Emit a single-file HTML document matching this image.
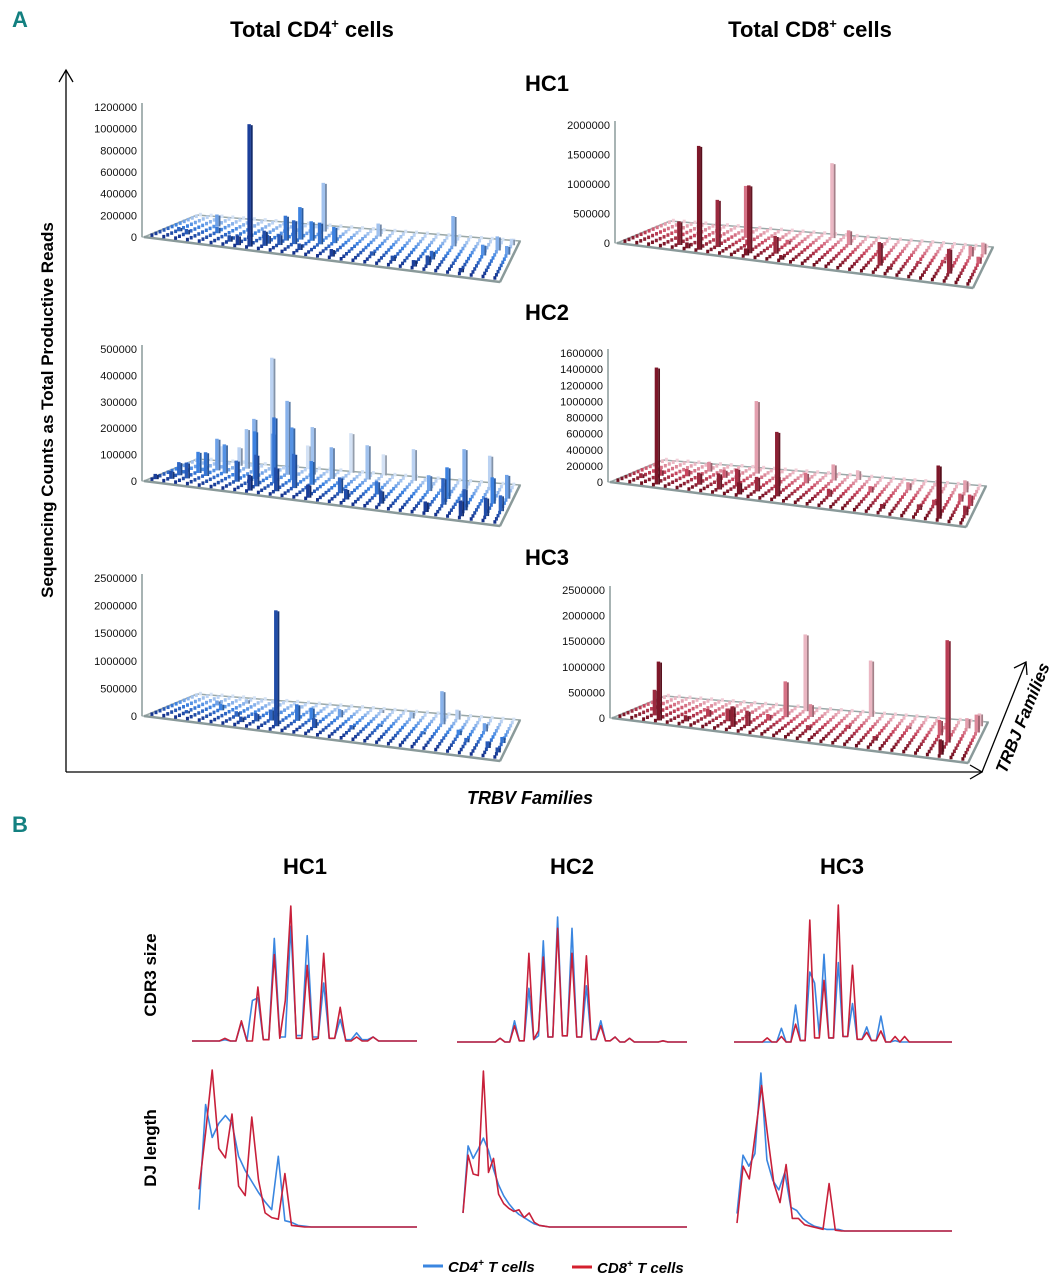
<!DOCTYPE html>
<html><head><meta charset="utf-8">
<style>
body{margin:0;background:#fff;}
svg{display:block;font-family:"Liberation Sans",sans-serif;}
</style></head>
<body>
<svg id="fig" width="1054" height="1280" viewBox="0 0 1054 1280">
<g id="static">
<text x="12" y="27" font-size="22" font-weight="bold" fill="#138080">A</text>
<text x="12" y="832" font-size="22" font-weight="bold" fill="#138080">B</text>
<text x="312" y="37" font-size="22" font-weight="bold" text-anchor="middle">Total CD4<tspan font-size="13" dy="-9">+</tspan><tspan dy="9"> cells</tspan></text>
<text x="810" y="37" font-size="22" font-weight="bold" text-anchor="middle">Total CD8<tspan font-size="13" dy="-9">+</tspan><tspan dy="9"> cells</tspan></text>
<text x="547" y="91" font-size="22" font-weight="bold" text-anchor="middle">HC1</text>
<text x="547" y="320" font-size="22" font-weight="bold" text-anchor="middle">HC2</text>
<text x="547" y="565" font-size="22" font-weight="bold" text-anchor="middle">HC3</text>
<g stroke="#000" stroke-width="1.3" fill="none">
<line x1="66" y1="772" x2="66" y2="70"/><polyline points="59,82 66,70 73,82"/>
<line x1="66" y1="772" x2="982" y2="772"/><polyline points="970,765 982,772 970,779"/>
<line x1="982" y1="772" x2="1026" y2="662"/><polyline points="1014,668 1026,662 1027,675"/>
</g>
<text transform="translate(53,410) rotate(-90)" font-size="17" font-weight="bold" text-anchor="middle">Sequencing Counts as Total Productive Reads</text>
<text x="530" y="804" font-size="18" font-weight="bold" font-style="italic" text-anchor="middle">TRBV Families</text>
<text transform="translate(1028,720) rotate(-68)" font-size="17" font-weight="bold" font-style="italic" text-anchor="middle">TRBJ Families</text>
<text x="305" y="874" font-size="22" font-weight="bold" text-anchor="middle">HC1</text>
<text x="572" y="874" font-size="22" font-weight="bold" text-anchor="middle">HC2</text>
<text x="842" y="874" font-size="22" font-weight="bold" text-anchor="middle">HC3</text>
<text transform="translate(156,975) rotate(-90)" font-size="17" font-weight="bold" text-anchor="middle">CDR3 size</text>
<text transform="translate(156,1148) rotate(-90)" font-size="17" font-weight="bold" text-anchor="middle">DJ length</text>
<g>
<line x1="423" y1="1266" x2="443" y2="1266" stroke="#3a86e0" stroke-width="3"/>
<text x="448" y="1272" font-size="15" font-weight="bold" font-style="italic">CD4<tspan font-size="10" dy="-6">+</tspan><tspan dy="6"> T cells</tspan></text>
<line x1="572" y1="1267" x2="592" y2="1267" stroke="#d4202e" stroke-width="3"/>
<text x="597" y="1273" font-size="15" font-weight="bold" font-style="italic">CD8<tspan font-size="10" dy="-6">+</tspan><tspan dy="6"> T cells</tspan></text>
</g>
</g>
<g id="plots"></g>
</svg>
<script>
// ---- 3D bar data: [V family, J family, reads] ----
const cd4hc1Bars=[[8,1,1130000],[12,10,450000],[11,6,300000],[10,5,230000],[11,4,220000],[12,6,180000],[13,5,200000],[14,6,150000],[10,3,100000],[9,3,80000],[7,1,90000],[6,2,60000],[3,8,110000],[24,9,280000],[27,7,100000],[28,9,130000],[29,8,80000],[29,11,60000],[23,4,80000],[23,2,90000],[22,1,60000],[26,1,40000],[15,1,70000],[12,2,60000],[18,3,40000],[20,2,50000],[17,10,120000],[4,5,60000],[2,3,50000],[1,4,40000],[9,2,140000]];
const cd8hc1Bars=[[6,1,1760000],[15,11,1270000],[10,2,1150000],[8,8,880000],[7,3,800000],[4,2,400000],[12,3,300000],[21,3,400000],[17,9,250000],[27,3,420000],[29,10,200000],[28,9,180000],[29,7,120000],[5,1,100000],[10,1,120000],[13,1,80000],[9,5,100000],[12,7,80000],[22,2,60000],[24,5,50000],[26,6,60000]];
const cd4hc2Bars=[[0,1,20000],[1,2,30000],[1,4,50000],[2,3,60000],[2,6,80000],[3,5,90000],[3,8,120000],[4,7,110000],[5,10,150000],[6,4,80000],[6,9,200000],[7,6,180000],[7,11,420000],[8,8,160000],[8,3,120000],[8,1,60000],[9,5,250000],[9,9,280000],[10,7,200000],[10,2,90000],[11,4,130000],[11,10,180000],[12,6,90000],[13,9,120000],[14,12,150000],[15,4,60000],[16,10,130000],[17,12,80000],[18,5,50000],[20,11,120000],[22,8,60000],[24,4,100000],[24,6,120000],[25,9,160000],[26,3,80000],[26,1,60000],[27,11,120000],[28,6,100000],[29,8,90000],[29,4,60000],[28,2,70000],[23,1,40000],[19,2,50000],[13,1,50000],[16,2,40000],[10,12,90000],[4,11,70000],[2,12,60000]];
const cd8hc2Bars=[[3,1,1450000],[9,10,900000],[13,2,800000],[27,1,660000],[6,3,150000],[8,2,200000],[9,4,220000],[10,1,150000],[11,3,180000],[12,6,120000],[7,7,100000],[5,9,120000],[16,10,200000],[17,4,100000],[20,7,80000],[23,9,100000],[25,3,70000],[28,10,150000],[29,6,140000],[29,3,120000],[28,7,100000],[1,3,60000],[2,5,80000],[4,6,90000],[14,8,130000],[18,11,120000],[22,2,60000],[26,5,70000]];
const cd4hc3Bars=[[10,2,2100000],[23,9,600000],[11,5,300000],[9,4,200000],[8,3,150000],[7,2,100000],[12,6,220000],[13,3,180000],[6,4,100000],[4,6,120000],[3,8,90000],[2,3,60000],[14,8,150000],[16,4,80000],[18,6,60000],[20,10,120000],[22,5,60000],[25,6,100000],[26,4,80000],[27,8,150000],[28,3,120000],[29,5,110000],[29,2,90000],[24,11,180000],[17,11,70000],[5,10,80000]];
const cd8hc3Bars=[[3,1,1150000],[2,3,500000],[13,11,1500000],[12,8,700000],[9,2,400000],[8,4,250000],[10,3,300000],[6,5,150000],[19,11,1100000],[27,5,2000000],[26,7,300000],[29,9,350000],[29,11,250000],[28,10,200000],[27,1,300000],[15,4,100000],[18,6,80000],[21,3,90000],[23,8,70000],[5,2,120000],[11,6,130000],[14,9,250000]];
const cd4hc1Ticks=[0,200000,400000,600000,800000,1000000,1200000];
const cd8hc1Ticks=[0,500000,1000000,1500000,2000000];
const cd4hc2Ticks=[0,100000,200000,300000,400000,500000];
const cd8hc2Ticks=[0,200000,400000,600000,800000,1000000,1200000,1400000,1600000];
const cd4hc3Ticks=[0,500000,1000000,1500000,2000000,2500000];
const cd8hc3Ticks=[0,500000,1000000,1500000,2000000,2500000];

// ---- Line chart data (% of max) ----
const cdr3Hc1Cd4=[0,0,0,0,0,0,1,0,0,14,0,30,32,1,1,76,3,3,85,4,4,78,3,3,43,2,2,16,1,1,6,1,1,3,0,0,0,0,0,0,0,0];
const cdr3Hc1Cd8=[0,0,0,0,0,0,2,0,0,15,0,0,40,1,1,64,2,30,100,2,2,56,1,2,65,2,2,25,0,0,3,0,0,3,0,0,0,0,0,0,0,0];
const cdr3Hc2Cd4=[0,0,0,0,0,0,0,0,0,3,0,0,17,1,1,43,2,5,81,4,4,100,5,5,91,4,4,45,2,2,17,1,1,4,0,0,3,0,0,0,0,0,0,1,0,0,0,0,0];
const cdr3Hc2Cd8=[0,0,0,0,0,0,0,0,0,3,0,0,13,1,1,71,2,9,68,4,4,91,5,5,71,4,4,69,2,2,13,1,1,4,0,0,3,0,0,0,0,0,0,1,0,0,0,0,0];
const cdr3Hc3Cd4=[0,0,0,0,0,0,0,0,0,0,10,0,0,27,1,1,51,43,5,64,3,3,58,4,4,28,2,2,11,1,1,19,0,0,1,0,0,0,0,0,0,0,0,0,0,0,0];
const cdr3Hc3Cd8=[0,0,0,0,0,0,0,3,0,0,4,0,0,13,1,1,89,3,3,45,3,3,100,4,4,56,2,2,7,1,1,8,0,0,4,0,4,0,0,0,0,0,0,0,0,0,0];
const djHc1Cd4=[11,78,57,66,71,66,45,36,29,22,16,11,45,4,3,1,0.5,0,0,0,0,0,0,0,0,0,0,0,0,0,0,0,0,0];
const djHc1Cd8=[24,60,100,50,44,72,26,20,70,30,9,6,5,34,1,0.5,0,0,0,0,0,0,0,0,0,0,0,0,0,0,0,0,0,0];
const djHc2Cd4=[9,52,44,50,57,49,37,27,20,15,11,8,6,4,2,1,0.5,0,0,0,0,0,0,0,0,0,0,0,0,0,0,0,0,0,0,0,0,0,0,0,0,0,0,0,0];
const djHc2Cd8=[9,46,34,33,100,35,44,21,15,12,10,11,6,9,3,1,0.5,0,0,0,0,0,0,0,0,0,0,0,0,0,0,0,0,0,0,0,0,0,0,0,0,0,0,0,0];
const djHc3Cd4=[11,48,41,49,100,45,32,26,37,15,13,8,5,3,2,1,1,1,0,0,0,0,0,0,0,0,0,0,0,0,0,0,0,0,0,0,0];
const djHc3Cd8=[5,41,33,62,92,60,30,18,42,8,8,4,3,2,1,30,0.5,0,0,0,0,0,0,0,0,0,0,0,0,0,0,0,0,0,0,0];

const NS='http://www.w3.org/2000/svg';
const plots=document.getElementById('plots');
function mk(tag,attrs,parent){const e=document.createElementNS(NS,tag);for(const k in attrs)e.setAttribute(k,attrs[k]);(parent||plots).appendChild(e);return e;}
function mixArr(a,b,t){return a.map((v,i)=>Math.round(v+(b[i]-v)*t));}
function col3(stops,t){const c=t<0.5?mixArr(stops[0],stops[1],t*2):mixArr(stops[1],stops[2],(t-0.5)*2);return c;}
function rgb(c){return 'rgb('+c.join(',')+')';}
const NV=30,NJ=13;

function panel3d(name,ox,oy,axisPx,ticks,bars,stops){
  const g=mk('g',{});
  
  
  const maxT=ticks[ticks.length-1];
  const yScale=v=>v/maxT*axisPx;
  const FL=[ox+2,oy],FR=[ox+358,oy+45],BR=[ox+378,oy+4],BL=[ox+55,oy-22];
  function pos(v,j){const u=(v+0.5)/NV,w=(j+0.5)/NJ;
    const fx=FL[0]+(FR[0]-FL[0])*u,fy=FL[1]+(FR[1]-FL[1])*u;
    const bx=BL[0]+(BR[0]-BL[0])*u,by=BL[1]+(BR[1]-BL[1])*u;
    return [fx+(bx-fx)*w,fy+(by-fy)*w];}
  const floor=mk('polygon',{points:[FL,FR,BR,BL].map(p=>p.join(',')).join(' '),fill:'#ffffff',stroke:'#9aa8a8','stroke-width':1.5},g);
  
  
  mk('line',{x1:FL[0],y1:FL[1],x2:FR[0],y2:FR[1],stroke:'#8a9a9a','stroke-width':2.5},g);
  mk('line',{x1:FR[0],y1:FR[1],x2:BR[0],y2:BR[1],stroke:'#8a9a9a','stroke-width':2.5},g);
  const ax=mk('line',{x1:ox,y1:oy,x2:ox,y2:oy-axisPx-4,stroke:'#8a9a9a','stroke-width':1.5},g);
  
  
  ticks.forEach(t=>{
    const tx=mk('text',{x:ox-5,y:oy-yScale(t)+4,'font-size':11,'text-anchor':'end',fill:'#111'},g);
    
    
    tx.textContent=t;
  });
  const map={};bars.forEach(b=>{map[b[0]+'_'+b[1]]=b[2];});
  for(let j=NJ-1;j>=0;j--){for(let v=0;v<NV;v++){
    const p=pos(v,j);const cc=col3(stops,j/(NJ-1));const c=rgb(cc);
    const val=map[v+'_'+j];
    if(val===undefined){mk('rect',{x:p[0]-1.5,y:p[1]-3.5,width:3,height:3.5,fill:c},g);}
    else{
      const h=Math.max(3,yScale(val));
      const bar=mk('g',{},g);
      
      
      mk('rect',{x:p[0]-2.5,y:p[1]-h,width:3.5,height:h,fill:c},bar);
      mk('rect',{x:p[0]+1,y:p[1]-h+1,width:1.8,height:h-1,fill:rgb(mixArr(cc,[0,0,0],0.3))},bar);
    }
  }}
}
const blueStops=[[20,50,140],[60,130,225],[212,226,245]];
const redStops=[[110,14,30],[200,70,95],[242,205,215]];
panel3d('cd4-hc1-chart',142,237,130,cd4hc1Ticks,cd4hc1Bars,blueStops);
panel3d('cd8-hc1-chart',615,243,118,cd8hc1Ticks,cd8hc1Bars,redStops);
panel3d('cd4-hc2-chart',142,481,132,cd4hc2Ticks,cd4hc2Bars,blueStops);
panel3d('cd8-hc2-chart',608,482,129,cd8hc2Ticks,cd8hc2Bars,redStops);
panel3d('cd4-hc3-chart',142,716,138,cd4hc3Ticks,cd4hc3Bars,blueStops);
panel3d('cd8-hc3-chart',610,718,128,cd8hc3Ticks,cd8hc3Bars,redStops);

function lineChart(name,x0,x1,base,top,cd4,cd8){
  const g=mk('g',{});
  
  
  [[cd4,'#3a86e0','cd4-line'],[cd8,'#c8203a','cd8-line']].forEach(([arr,col,nm])=>{
    const n=arr.length;
    const xs=i=>x0+(x1-x0)*i/(n-1), ys=v=>base-(base-top)*v/100;
    const pl=mk('polyline',{points:arr.map((v,i)=>xs(i).toFixed(1)+','+ys(v).toFixed(1)).join(' '),fill:'none',stroke:col,'stroke-width':1.6,'stroke-linejoin':'round'},g);
    
    
  });
}
lineChart('cdr3-hc1-chart',192,417,1041,906,cdr3Hc1Cd4,cdr3Hc1Cd8);
lineChart('cdr3-hc2-chart',457,687,1042,917,cdr3Hc2Cd4,cdr3Hc2Cd8);
lineChart('cdr3-hc3-chart',734,952,1042,905,cdr3Hc3Cd4,cdr3Hc3Cd8);
lineChart('dj-hc1-chart',199,417,1227,1070,djHc1Cd4,djHc1Cd8);
lineChart('dj-hc2-chart',463,687,1227,1071,djHc2Cd4,djHc2Cd8);
lineChart('dj-hc3-chart',737,952,1231,1073,djHc3Cd4,djHc3Cd8);
</script>
</body></html>
